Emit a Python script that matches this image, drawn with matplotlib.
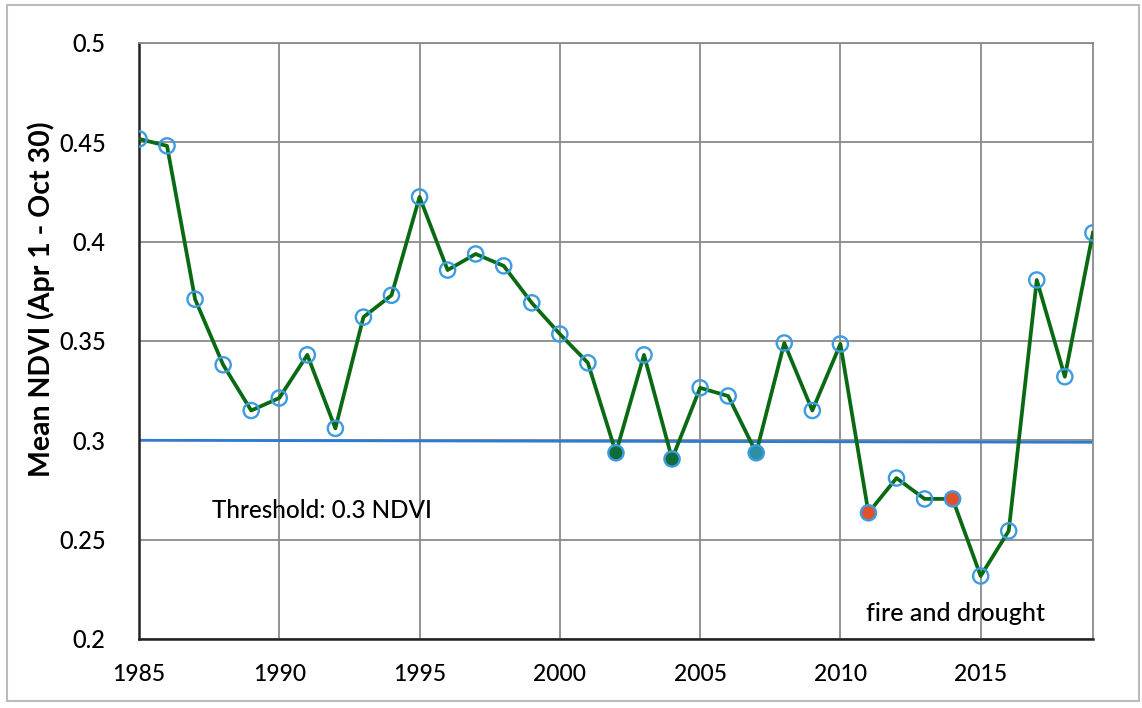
import matplotlib.pyplot as plt
from matplotlib.patches import Rectangle

plt.rcParams['font.family'] = ['Lato', 'DejaVu Sans']

years = list(range(1985, 2020))
ndvi = [0.4517, 0.4482, 0.371, 0.338, 0.315, 0.3213, 0.343, 0.306, 0.362, 0.373,
        0.4225, 0.3857, 0.3938, 0.3878, 0.3692, 0.3535, 0.339, 0.2937, 0.343, 0.2906,
        0.3264, 0.3223, 0.2937, 0.349, 0.315, 0.3485, 0.2635, 0.281, 0.2705, 0.2705,
        0.2317, 0.2544, 0.3807, 0.332, 0.4044]
# markers with a filled face (others are open circles)
filled = {2002: '#0f6b3a', 2004: '#0f6b3a', 2007: '#2a8fa0', 2011: '#e0502a', 2014: '#e0502a'}
threshold = 0.3

fig = plt.figure(figsize=(11.42, 7.08), dpi=100)
ax = fig.add_axes([0.1217, 0.0975, 0.8353, 0.8418])

ax.plot([1985, 2019], [threshold, threshold - 0.001], color='#2e7bd0', lw=2, zorder=2)
ax.plot(years, ndvi, color='#0a6a14', lw=2.7, zorder=3)
faces = [filled.get(y, 'none') for y in years]
ax.scatter(years, ndvi, s=120, facecolors=faces, edgecolors='#3d9be0', linewidths=1.7, zorder=4)

ax.set_xlim(1985, 2019)
ax.set_ylim(0.2, 0.5)
ax.set_xticks([1985, 1990, 1995, 2000, 2005, 2010, 2015])
ax.set_yticks([0.2, 0.25, 0.3, 0.35, 0.4, 0.45, 0.5])
ax.set_yticklabels(['0.2', '0.25', '0.3', '0.35', '0.4', '0.45', '0.5'])
ax.tick_params(axis='y', length=0, labelsize=17, pad=24)
ax.tick_params(axis='x', length=0, labelsize=16.5, pad=18)
for lab in ax.get_xticklabels() + ax.get_yticklabels():
    lab.set_fontweight('medium')
ax.grid(True, color='#8a8a8a', lw=1.3)
ax.set_axisbelow(True)
for s in ['top', 'right']:
    ax.spines[s].set_color('#8a8a8a')
    ax.spines[s].set_linewidth(1.3)
for s in ['left', 'bottom']:
    ax.spines[s].set_color('#222222')
    ax.spines[s].set_linewidth(1.8)

ax.set_ylabel('Mean NDVI (Apr 1 - Oct 30)', fontsize=20.5, fontweight='bold')
ax.yaxis.set_label_coords(-0.088, 0.57)

ax.text(1987.6, 0.2645, 'Threshold: 0.3 NDVI', fontsize=17.5, fontweight='medium', va='center', ha='left')
ax.text(2010.9, 0.213, 'fire and drought', fontsize=18, fontweight='medium', va='center', ha='left')

fig.patches.append(Rectangle((0.006, 0.01), 0.991, 0.983, transform=fig.transFigure,
                             fill=False, edgecolor='#bbbbbb', lw=1.5))

fig.savefig('out.png', dpi=100)
